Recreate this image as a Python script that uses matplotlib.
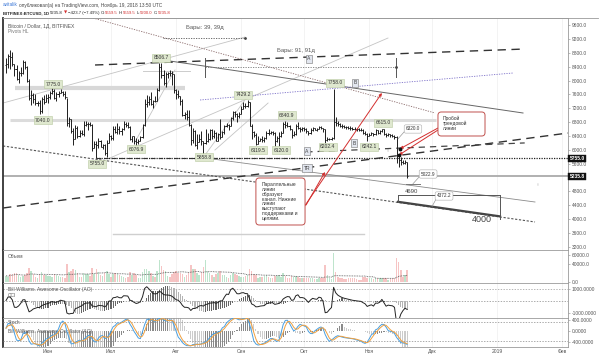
import numpy as np
import pandas as pd
import matplotlib
matplotlib.use("Agg")
import matplotlib.pyplot as plt
from matplotlib.collections import LineCollection
from matplotlib.patches import FancyBboxPatch, Arc

plt.rcParams['font.family'] = ['Liberation Sans', 'DejaVu Sans']

# ---------------- data (BITFINEX BTCUSD daily) ----------------
start_date = '2018-05-12'
end_date = '2018-11-19'
first_open = 8440

close_may = [8480, 8700, 8680, 8470, 8330, 8050, 8230, 8230, 8520, 8390, 8000, 7500, 7570, 7460, 7340, 7350, 7110, 7460, 7390, 7490]
high_may = [8650, 8750, 8880, 8820, 8480, 8450, 8270, 8380, 8580, 8560, 8410, 8030, 7720, 7650, 7620, 7420, 7430, 7530, 7570, 7620]
low_may = [8220, 8350, 8330, 8430, 8120, 8020, 7930, 8140, 8180, 8340, 7960, 7440, 7280, 7350, 7290, 7260, 7040, 7070, 7310, 7370]

close_jun = [7530, 7640, 7710, 7500, 7620, 7650, 7680, 7620, 7510, 6780, 6880, 6550, 6310, 6640, 6400, 6490, 6450, 6710, 6740, 6760, 6720, 6050, 6160, 6150, 6250, 6090, 6150, 5900, 6200, 6390]
high_jun = [7610, 7700, 7775, 7760, 7660, 7700, 7750, 7700, 7690, 7500, 6950, 6900, 6620, 6720, 6680, 6560, 6580, 6820, 6830, 6800, 6800, 6740, 6250, 6260, 6340, 6280, 6180, 6170, 6280, 6500]
low_jun = [7360, 7470, 7600, 7460, 7400, 7510, 7640, 7540, 7480, 6700, 6660, 6480, 6140, 6300, 6330, 6360, 6420, 6390, 6680, 6580, 6690, 5970, 6040, 5755, 6060, 6070, 6030, 5860, 5800, 6200]

close_jul = [6350, 6610, 6510, 6590, 6530, 6600, 6760, 6710, 6660, 6300, 6390, 6250, 6220, 6270, 6360, 6730, 7320, 7370, 7470, 7330, 7410, 7400, 7720, 8400, 8170, 7940, 8190, 8230, 8210, 8180, 7730]
high_jul = [6440, 6680, 6690, 6780, 6690, 6640, 6830, 6790, 6800, 6680, 6410, 6400, 6330, 6320, 6400, 6760, 7460, 7580, 7560, 7680, 7450, 7560, 7790, 8500, 8506, 8290, 8250, 8240, 8290, 8270, 8180]
low_jul = [6280, 6290, 6480, 6470, 6460, 6440, 6560, 6660, 6640, 6280, 6230, 6160, 6077, 6180, 6250, 6330, 6700, 7250, 7290, 7300, 7200, 7380, 7400, 7700, 8060, 7880, 7800, 8070, 8130, 7880, 7650]

close_aug = [7600, 7540, 7420, 7010, 7040, 6940, 6720, 6280, 6540, 6150, 6240, 6320, 6260, 6190, 6270, 6310, 6580, 6400, 6490, 6260, 6470, 6380, 6510, 6700, 6730, 6700, 6920, 7090, 7040, 6980, 7020]
high_aug = [7750, 7720, 7550, 7480, 7090, 7160, 7150, 6740, 6640, 6560, 6460, 6470, 6550, 6270, 6600, 6480, 6600, 6600, 6580, 6520, 6500, 6880, 6550, 6730, 6780, 6740, 6950, 7130, 7130, 7060, 7100]
low_aug = [7480, 7500, 7300, 6980, 6900, 6850, 6690, 6140, 6200, 6100, 6020, 6230, 6150, 5859, 6170, 6230, 6290, 6300, 6340, 6250, 6260, 6300, 6360, 6460, 6670, 6560, 6680, 6870, 6960, 6810, 6910]

close_sep = [7190, 7270, 7260, 7370, 6700, 6520, 6420, 6180, 6250, 6320, 6280, 6330, 6490, 6480, 6520, 6500, 6250, 6340, 6390, 6490, 6760, 6710, 6700, 6590, 6430, 6460, 6690, 6640, 6600, 6630]
high_sep = [7260, 7370, 7360, 7429, 7390, 6740, 6550, 6490, 6400, 6350, 6400, 6360, 6540, 6590, 6550, 6530, 6520, 6400, 6520, 6540, 6800, 6841, 6790, 6720, 6590, 6540, 6740, 6790, 6650, 6650]
low_sep = [7020, 7170, 7200, 7240, 6690, 6310, 6370, 6140, 6160, 6250, 6220, 6220, 6320, 6420, 6470, 6440, 6120, 6230, 6120, 6370, 6480, 6630, 6660, 6560, 6340, 6400, 6440, 6610, 6520, 6540]

close_oct = [6590, 6530, 6480, 6570, 6620, 6580, 6610, 6660, 6640, 6590, 6280, 6310, 6310, 6330, 6800, 6780, 6740, 6700, 6680, 6660, 6650, 6640, 6620, 6610, 6600, 6590, 6580, 6570, 6500, 6470, 6410]
high_oct = [6660, 6620, 6540, 6620, 6660, 6640, 6630, 6700, 6680, 6640, 6600, 6360, 6350, 6380, 7758, 6960, 6820, 6780, 6740, 6720, 6700, 6690, 6680, 6660, 6650, 6640, 6630, 6620, 6600, 6530, 6500]
low_oct = [6550, 6500, 6420, 6470, 6540, 6560, 6540, 6590, 6610, 6520, 6202, 6250, 6290, 6290, 6300, 6700, 6700, 6660, 6640, 6620, 6610, 6600, 6580, 6570, 6560, 6550, 6540, 6530, 6470, 6420, 6242]

close_nov = [6430, 6480, 6450, 6560, 6500, 6540, 6600, 6470, 6420, 6450, 6430, 6400, 6380, 5760, 5700, 5640, 5620, 5660, 5236]
high_nov = [6480, 6520, 6500, 6600, 6580, 6570, 6615, 6610, 6490, 6480, 6470, 6460, 6420, 6390, 5850, 5780, 5700, 5720, 5660]
low_nov = [6390, 6420, 6400, 6420, 6450, 6470, 6520, 6430, 6380, 6400, 6380, 6380, 6320, 5620, 5500, 5560, 5590, 5600, 5200]

vol_may = [14000, 12000, 18000, 17000, 20000, 19000, 16000, 11000, 13000, 15000, 19000, 32000, 25000, 18000, 11000, 10000, 17000, 22000, 16000, 15000]
vol_jun = [14000, 13000, 12000, 17000, 15000, 14000, 12000, 11000, 10000, 40000, 22000, 24000, 30000, 26000, 19000, 12000, 11000, 20000, 17000, 18000, 14000, 31000, 18000, 28000, 22000, 16000, 14000, 20000, 24000, 18000]
vol_jul = [12000, 18000, 20000, 17000, 15000, 13000, 11000, 9000, 12000, 22000, 16000, 19000, 15000, 10000, 9000, 22000, 30000, 28000, 24000, 20000, 13000, 12000, 25000, 48000, 35000, 27000, 25000, 14000, 12000, 18000, 22000]
vol_aug = [25000, 20000, 19000, 17000, 12000, 16000, 21000, 37000, 28000, 30000, 20000, 15000, 22000, 33000, 48000, 24000, 20000, 15000, 12000, 17000, 19000, 24000, 16000, 15000, 11000, 10000, 16000, 20000, 17000, 15000, 14000]
vol_sep = [12000, 11000, 13000, 16000, 30000, 25000, 17000, 15000, 10000, 11000, 12000, 13000, 15000, 12000, 9000, 8000, 14000, 13000, 15000, 12000, 20000, 13000, 9000, 10000, 13000, 12000, 14000, 12000, 8000, 8000]
vol_oct = [9000, 9000, 10000, 9000, 8000, 6000, 7000, 10000, 8000, 9000, 37000, 16000, 8000, 7000, 64000, 22000, 11000, 10000, 8000, 6000, 6000, 8000, 8000, 9000, 8000, 6000, 5000, 5000, 12000, 11000, 9000]
vol_nov = [10000, 9000, 6000, 9000, 8000, 9000, 10000, 9000, 8000, 5000, 6000, 8000, 10000, 53000, 45000, 26000, 12000, 15000, 27000]

price_ticks = [3200, 3600, 4000, 4400, 4800, 5200, 5600, 6000, 6400, 6800, 7200, 7600, 8000, 8400, 8800, 9200, 9600]
month_labels = ['Июн', 'Июл', 'Авг', 'Сен', 'Окт', 'Ноя', 'Дек', '2019', 'Фев']
month_starts = ['2018-06-01', '2018-07-01', '2018-08-01', '2018-09-01', '2018-10-01',
                '2018-11-01', '2018-12-01', '2019-01-01', '2019-02-01']
last_price = 5235.8
level_5755 = 5755.0

# drawing objects (x = days from 2018-06-01, y = price)
pivot_labels = [("7775.0", 2.4, 7899), ("7040.0", -2.4, 6861), ("5755.0", 23.3, 5593),
                ("6076.9", 41.9, 6025), ("8506.7", 53.8, 8649), ("5858.8", 74.3, 5794),
                ("7429.2", 92.9, 7582), ("6119.5", 100.0, 5996), ("6120.0", 111.0, 5996),
                ("6840.9", 113.8, 7005), ("6202.4", 133.3, 6083), ("7758.0", 136.7, 7928),
                ("6242.1", 152.9, 6083), ("6615.0", 159.5, 6775)]
white_labels = [("6320.0", 173.8, 6602, 166.7, 6320), ("5022.9", 181.0, 5304, 173.8, 5023),
                ("4372.2", 188.6, 4670, 182.9, 4372)]
tag_labels = [("B", 146.2, 7928), ("B", 145.7, 6198), ("A", 123.3, 5967), ("A", 124.3, 8620),
              ("TR", 123.3, 5477)]

# ---------------- derived series ----------------
dates = pd.date_range(start_date, end_date, freq='D')
ref = pd.Timestamp('2018-06-01')
x = np.asarray((dates - ref).days, dtype=float)
close = np.array(close_may + close_jun + close_jul + close_aug + close_sep + close_oct + close_nov, float)
high = np.array(high_may + high_jun + high_jul + high_aug + high_sep + high_oct + high_nov, float)
low = np.array(low_may + low_jun + low_jul + low_aug + low_sep + low_oct + low_nov, float)
vol = np.array(vol_may + vol_jun + vol_jul + vol_aug + vol_sep + vol_oct + vol_nov, float)
assert len(close) == len(high) == len(low) == len(vol) == len(x)
opn = np.concatenate([[first_open], close[:-1]])

s_close, s_high, s_low = pd.Series(close), pd.Series(high), pd.Series(low)
med = (s_high + s_low) / 2
ao = (med.rolling(5, min_periods=1).mean() - med.rolling(34, min_periods=1).mean()).values
tp = (s_high + s_low + s_close) / 3
tp_sma = tp.rolling(20, min_periods=1).mean()
mad = tp.rolling(20, min_periods=1).apply(lambda v: np.mean(np.abs(v - v.mean())), raw=True)
cci = ((tp - tp_sma) / (0.015 * mad.replace(0, np.nan))).fillna(0).values
ll = s_low.rolling(14, min_periods=1).min()
hh = s_high.rolling(14, min_periods=1).max()
raw_k = 100 * (s_close - ll) / (hh - ll)
k_line = raw_k.rolling(3, min_periods=1).mean()
d_line = k_line.rolling(3, min_periods=1).mean()
vol_ma = pd.Series(vol).rolling(20, min_periods=1).mean().values
month_x = np.array([(pd.Timestamp(m) - ref).days for m in month_starts], float)

# ---------------- figure ----------------
W, H = 600, 357
fig = plt.figure(figsize=(W / 100, H / 100), dpi=100)
fig.patch.set_facecolor('white')

def frac_rect(x0, y0, x1, y1):
    return [x0 / W, 1 - y1 / H, (x1 - x0) / W, (y1 - y0) / H]

XL = (-21.43, 247.62)
ax = fig.add_axes(frac_rect(3, 18, 568, 250))
axv = fig.add_axes(frac_rect(3, 250, 568, 283))
axa = fig.add_axes(frac_rect(3, 283, 568, 318))
axs = fig.add_axes(frac_rect(3, 318, 568, 347))
axc = axa.twinx()
axk = axs.twinx()
for t in (axc, axk):
    t.set_xlim(*XL)
    t.axis('off')

for a in (ax, axv, axa, axs):
    a.set_xlim(*XL)
    a.set_facecolor('white')
    for sp in a.spines.values():
        sp.set_color('#9a9a9a'); sp.set_linewidth(0.6)
    a.spines['left'].set_color('#333333'); a.spines['left'].set_linewidth(1.3)
    a.yaxis.tick_right()
    a.yaxis.set_label_position('right')
    a.tick_params(axis='y', left=False, labelleft=False, right=True, labelright=True,
                  length=1.5, width=0.4, pad=1, labelsize=3.5, labelcolor='#555555', color='#888888')
    a.tick_params(axis='x', length=0, labelbottom=False)
    for mx in month_x:
        a.axvline(mx, color='#eeeeee', lw=0.5, zorder=0)

# ---- main price panel ----
ax.set_ylim(3113, 9802)
ax.set_yticks(price_ticks)
# the 5200 tick label sits under the last-price box, as in the reference
ax.set_yticklabels(['' if t == 5200 else f"{t:.1f}" for t in price_ticks])

def seg(a, pts, **kw):
    (x0, y0), (x1, y1) = pts
    a.plot([x0, x1], [y0, y1], **kw)

# horizontal bands / levels
seg(ax, [(-15.7, 7798), (65.2, 7798)], color='#d8d8d8', lw=3, zorder=1, solid_capstyle='butt')
seg(ax, [(-18, 6847), (185, 6847)], color='#dcdcdc', lw=2.2, zorder=1, solid_capstyle='butt')
seg(ax, [(45.2, 8274), (67.6, 8274)], color='#cccccc', lw=0.7, zorder=1)
seg(ax, [(31, 3575), (150.5, 3575)], color='#cfcfcf', lw=1.0, zorder=1)
ax.axhline(last_price, color='#b0b0b0', lw=1.4, zorder=1)
seg(ax, [(23, level_5755), (XL[1], level_5755)], color='#222222', lw=0.9, ls=(0, (1, 1)), zorder=2)
seg(ax, [(23, level_5755 + 15), (122, level_5755 + 15)], color='#333333', lw=0.8, ls=(0, (4, 3)), zorder=2)

# light trend lines
for pts in [[(-21.4, 7351), (93.8, 9254)], [(29.5, 5766), (161.9, 9225)], [(74.8, 5852), (96.2, 7640)],
            [(79.5, 5996), (104.8, 7351)], [(41.4, 6227), (60.5, 8303)]]:
    seg(ax, pts, color='#c4c4c4', lw=0.6, zorder=1)

# channel lines
seg(ax, [(54.8, 8591), (226.2, 7063)], color='#666666', lw=0.7, zorder=2)
seg(ax, [(74.8, 5766), (231.9, 4497)], color='#8a8a8a', lw=0.6, zorder=2)
seg(ax, [(-21.4, 6112), (231.9, 3921)], color='#555555', lw=0.8, ls=(0, (2, 1.5)), zorder=2)
seg(ax, [(166.7, 4502), (215.2, 4083)], color='#444444', lw=1.6, zorder=2)
# dashed lines
seg(ax, [(-21.4, 4324), (247.6, 6486)], color='#333333', lw=1.0, ls=(0, (6, 4)), zorder=2)
seg(ax, [(123, 5940), (227, 6200)], color='#444444', lw=0.9, ls=(0, (5, 4)), zorder=2)
seg(ax, [(22.4, 8447), (227, 8908)], color='#333333', lw=1.0, ls=(0, (6, 4)), zorder=2)
# dotted lines
seg(ax, [(72.4, 7438), (221.4, 8216)], color='#7b6fc8', lw=0.6, ls=(0, (1.5, 1.5)), zorder=2)
seg(ax, [(21.4, 9802), (184.3, 7063)], color='#8a6a6a', lw=0.6, ls=(0, (1.5, 1.5)), zorder=2)
seg(ax, [(54.8, 9225), (93.8, 9225)], color='#555555', lw=0.6, ls=(0, (1.5, 1.5)), zorder=2)
seg(ax, [(74.8, 8398), (165.7, 8398)], color='#777777', lw=0.6, ls=(0, (1.5, 1.5)), zorder=2)
ax.plot([93.8, 165.7], [9225, 8398], 'o', ms=1, color='#444444', ls='none', zorder=3)
for vx in (74.8, 165.7):
    seg(ax, [(vx, 8101), (vx, 8649)], color='#555555', lw=0.7, zorder=2)
ax.text(74.8, 9514, 'Бары: 39, 39д', fontsize=4.2, color='#555555', ha='center', va='center')
ax.text(118, 8879, 'Бары: 91, 91д', fontsize=4.2, color='#555555', ha='center', va='center')

# arcs
ax.add_patch(Arc((234.3, 5996), 2 * 152 / 2.1, 2 * 152 * 28.83, theta1=148, theta2=216,
                 color='#c8c8c8', lw=0.6, zorder=1))
ax.add_patch(Arc((147.6, 4987), 2 * 180 / 2.1, 2 * 180 * 28.83, theta1=-14, theta2=30,
                 color='#c8c8c8', lw=0.6, zorder=1))

# 4690 / 4000 box
seg(ax, [(166.7, 4690), (215.2, 4690)], color='#555555', lw=0.7, zorder=2)
seg(ax, [(215.2, 4690), (215.2, 4000)], color='#555555', lw=0.7, zorder=2)
seg(ax, [(166.7, 4690), (166.7, 4497)], color='#555555', lw=0.7, zorder=2)
ax.text(172.9, 4814, '4690', fontsize=4.3, color='#444444', ha='center', va='center')
ax.text(206.7, 3978, '4000', fontsize=6.5, color='#444444', ha='center', va='center')

# OHLC bars
segs = []
for xi, o, h, l, c in zip(x, opn, high, low, close):
    segs.append([(xi, l), (xi, h)])
    segs.append([(xi - 0.5, o), (xi, o)])
    segs.append([(xi, c), (xi + 0.5, c)])
ax.add_collection(LineCollection(segs, colors='#1e1e1e', linewidths=0.7, zorder=4))

# red arrows
RED = '#d32f2f'
for (s, e) in [((121.9, 4353), (159, 7640)), ((122.9, 4411), (131.9, 5362)),
               ((185.7, 6630), (167.6, 6030)), ((185.7, 6572), (167.1, 5850))]:
    ax.annotate('', xy=e, xytext=s, zorder=6,
                arrowprops=dict(arrowstyle='-|>', color=RED, lw=0.7, mutation_scale=4,
                                shrinkA=0, shrinkB=0))
ax.plot([167.6, 167.1], [6030, 5850], 'o', ms=1.8, color='#111111', zorder=7)

# callout boxes
ASPECT = 28.83 * 2.1
for (x0, x1, y0, y1) in [(99, 122.4, 3834, 5189), (185.7, 208.1, 6400, 7092)]:
    ax.add_patch(FancyBboxPatch((x0, y0), x1 - x0, y1 - y0,
                                boxstyle='round,pad=0,rounding_size=1.6', mutation_aspect=ASPECT,
                                fc='white', ec='#c0504d', lw=0.7, zorder=8))
ax.text(101.9, 5070, 'Параллельные\nлинии\nобразуют\nканал. Нижние\nлинии\nвыступают\nподдержками и\nцелями.',
        fontsize=3.5, color='#333333', ha='left', va='top', linespacing=0.95, zorder=9)
ax.text(188.1, 6985, 'Пробой\nтрендовой\nлинии', fontsize=3.5, color='#333333', ha='left', va='top',
        linespacing=0.95, zorder=9)

# pivot labels
for t, px_, py_ in pivot_labels:
    ax.text(px_, py_, t, fontsize=3.6, color='#333333', ha='center', va='center', zorder=9,
            bbox=dict(boxstyle='square,pad=0.25', fc='#dfe8cf', ec='#b9c9a0', lw=0.4))
for t, px_, py_, tx, ty in white_labels:
    seg(ax, [(px_ - 3, py_), (tx, ty)], color='#999999', lw=0.5, zorder=8)
    ax.text(px_, py_, t, fontsize=3.4, color='#333333', ha='center', va='center', zorder=9,
            bbox=dict(boxstyle='round,pad=0.35', fc='white', ec='#aaaaaa', lw=0.4))
seg(ax, [(170.5, 5023), (177, 5023)], color='#777777', lw=0.7, zorder=8)
for t, px_, py_ in tag_labels:
    ax.text(px_, py_, t, fontsize=3.6, color='#444444', ha='center', va='center', zorder=9,
            bbox=dict(boxstyle='square,pad=0.3', fc='#e2e6ef', ec='#777777', lw=0.4))

# axis price boxes
for val in (level_5755, last_price):
    ax.text(1.003, val, f"{val:.1f}", transform=ax.get_yaxis_transform(), fontsize=3.6,
            color='white', fontweight='bold', ha='left', va='center', zorder=10, clip_on=False,
            bbox=dict(boxstyle='square,pad=0.25', fc='#111111', ec='#111111', lw=0.3))

ax.text(0.008, 0.965, 'Bitcoin / Dollar, 1Д, BITFINEX', transform=ax.transAxes, fontsize=3.6,
        color='#555555', ha='left', va='center')
ax.text(0.008, 0.94, 'Pivots HL', transform=ax.transAxes, fontsize=3.4, color='#777777',
        ha='left', va='center')

# ---- volume panel ----
axv.set_ylim(-2222, 71111)
axv.set_yticks([0, 40000, 60000])
axv.set_yticklabels(['0.0', '40000.0', '60000.0'])
vcol = np.where(close >= opn, '#a8dcbc', '#f4b0b0')
axv.bar(x, vol, width=0.7, color=vcol, alpha=0.75, zorder=2)
axv.plot(x, vol_ma, color='#555555', lw=0.6, ls=(0, (1, 1)), zorder=3)
axv.text(0.008, 0.80, 'Объем', transform=axv.transAxes, fontsize=3.5, color='#555555', va='center')

# ---- AO + CCI panel ----
axa.set_ylim(-1417, 1500)
axa.set_yticks([1000, -1000])
axa.set_yticklabels(['1000.0000', '-1000.0000'])
ao_up = np.concatenate([[True], ao[1:] >= ao[:-1]])
axa.bar(x, ao, width=0.55, color=np.where(ao_up, '#666666', '#b4b4b4'), zorder=2)
axa.axhline(0, color='#888888', lw=0.5, ls=(0, (2, 2)), zorder=1)
axa.axhline(1000, color='#999999', lw=0.5, ls=(0, (2, 2)), zorder=1)
axc.set_ylim(-330, 330)
axc.plot(x, cci, color='#222222', lw=0.7, zorder=3)
axa.text(0.008, 0.80, 'Bill Williams. Awesome Oscillator (AO)', transform=axa.transAxes,
         fontsize=3.5, color='#555555', va='center')
axa.text(0.008, 0.63, 'CCI', transform=axa.transAxes, fontsize=3.5, color='#555555', va='center')

# ---- Stoch + AO panel ----
axs.set_ylim(-582, 473)
axs.set_yticks([400, 0, -400])
axs.set_yticklabels(['400.0000', '0.0000', '-400.0000'])
axs.bar(x, ao, width=0.55, color=np.where(ao_up, '#8a8a8a', '#cccccc'), zorder=2)
axk.set_ylim(1, 92.6)
axk.axhline(80, color='#888888', lw=0.5, ls=(0, (2, 2)))
axk.axhline(20, color='#888888', lw=0.5, ls=(0, (2, 2)))
axk.plot(x, k_line, color='#4a9fe0', lw=0.7, zorder=3)
axk.plot(x, d_line, color='#f0a040', lw=0.7, zorder=3)
axs.text(0.008, 0.86, 'Stoch', transform=axs.transAxes, fontsize=3.5, color='#555555', va='center')
axs.text(0.008, 0.55, 'Bill Williams. Awesome Oscillator (AO)', transform=axs.transAxes,
         fontsize=3.5, color='#555555', va='center')
axs.set_xticks(month_x)
axs.set_xticklabels(month_labels)
axs.tick_params(axis='x', labelbottom=True, length=0, pad=1.2, labelsize=3.6, labelcolor='#555555')

# ---- header (pieces chained left to right) ----
renderer = fig.canvas.get_renderer()

def chain(py_, x0, pieces):
    cur = x0
    for s, kw, gap in pieces:
        t = fig.text(cur / W, 1 - py_ / H, s, va='center', ha='left', **kw)
        bb = t.get_window_extent(renderer)
        cur = bb.x1 + gap

chain(5, 3, [('avitalik', dict(fontsize=3.4, color='#3c78d8'), 1.3),
             ('опубликовал(а) на TradingView.com, Ноябрь 19, 2018 13:50 UTC', dict(fontsize=3.4, color='#444444'), 0)])
K = dict(fontsize=3.1, color='#222222')
R = dict(fontsize=3.1, color='#d32f2f')
chain(13, 3, [('BITFINEX:BTCUSD, 1D', dict(fontsize=3.1, color='#222222', fontweight='bold'), 1.2),
              ('5235.8', K, 1.0), ('▼', dict(fontsize=3.0, color='#d32f2f', family=['DejaVu Sans']), 0.8),
              ('−423.7 (−7.49%)', K, 1.0), ('O:', K, 0.1), ('5659.5', R, 1.0), ('H:', K, 0.1),
              ('5659.5', R, 1.0), ('L:', K, 0.1), ('5200.0', R, 1.0), ('C:', K, 0.1), ('5235.8', R, 0)])
fig.add_artist(plt.Line2D([3 / W, 598 / W], [1 - 18 / H, 1 - 18 / H], color='#9a9a9a', lw=0.6))

fig.savefig('out.png', dpi=100, facecolor='white')
